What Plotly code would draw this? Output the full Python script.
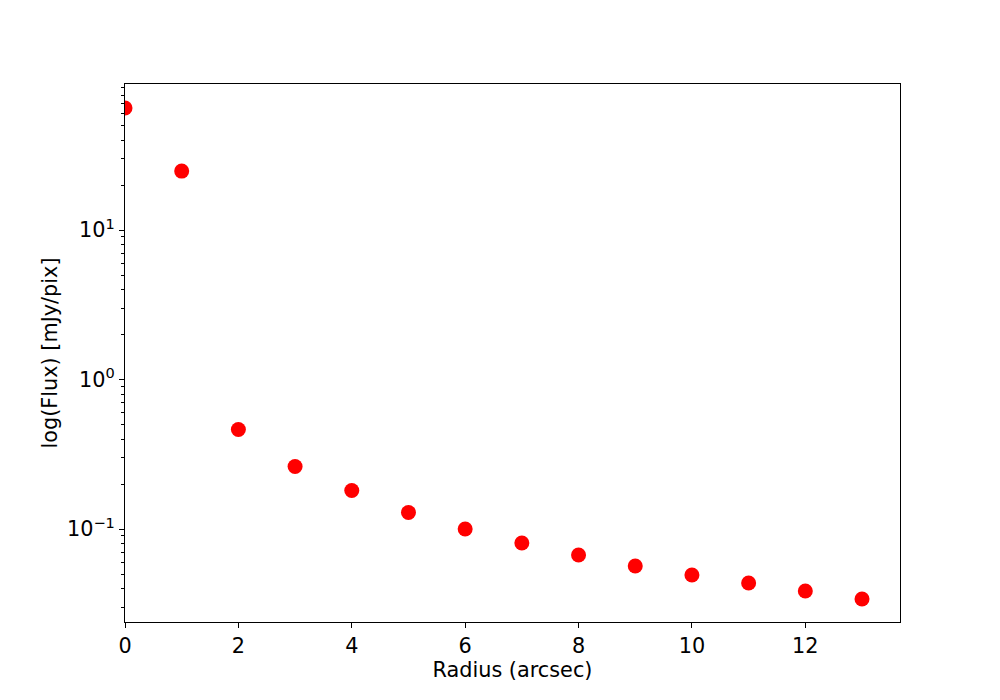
import plotly.graph_objects as go

radius = [0, 1, 2, 3, 4, 5, 6, 7, 8, 9, 10, 11, 12, 13]
flux = [65.5, 24.8, 0.463, 0.262, 0.181, 0.129, 0.100, 0.0806, 0.067, 0.0566, 0.0492, 0.0435, 0.0385, 0.034]

x_ticks = [0, 2, 4, 6, 8, 10, 12]
y_ticks = [0.1, 1, 10]
y_ticktext = ["10<sup>\u22121</sup>", "10<sup>0</sup>", "10<sup>1</sup>"]
y_minor = [m * 10 ** e for e in (-2, -1, 0, 1) for m in range(2, 10)]

font = "DejaVu Sans, Liberation Sans, sans-serif"
fs = 20.8

fig = go.Figure(go.Scatter(
    x=radius, y=flux, mode="markers",
    marker=dict(color="red", size=15, line=dict(width=0)),
    cliponaxis=True,
))

fig.update_layout(
    width=1000, height=700,
    margin=dict(l=117, r=108, t=76, b=86),
    paper_bgcolor="white", plot_bgcolor="white",
    font=dict(family=font, size=fs, color="black"),
    showlegend=False,
)
fig.update_xaxes(
    range=[0, 13.67], tickvals=x_ticks, ticks="outside", ticklen=5, tickwidth=1,
    tickcolor="black", showline=True, linecolor="black", linewidth=1, mirror=True,
    showgrid=False, zeroline=False,
    title=dict(text="Radius (arcsec)", font=dict(size=fs), standoff=4),
    tickfont=dict(size=fs),
)
fig.update_yaxes(
    type="log", range=[-1.622, 1.977], tickvals=y_ticks, ticktext=y_ticktext,
    ticks="outside", ticklen=5, tickwidth=1, tickcolor="black",
    minor=dict(tickvals=y_minor, ticks="outside", ticklen=3, tickcolor="black", showgrid=False),
    showline=True, linecolor="black", linewidth=1, mirror=True,
    showgrid=False, zeroline=False,
    title=dict(text="log(Flux) [mJy/pix]", font=dict(size=fs), standoff=3),
    tickfont=dict(size=fs),
)

fig.write_html("out.html")
